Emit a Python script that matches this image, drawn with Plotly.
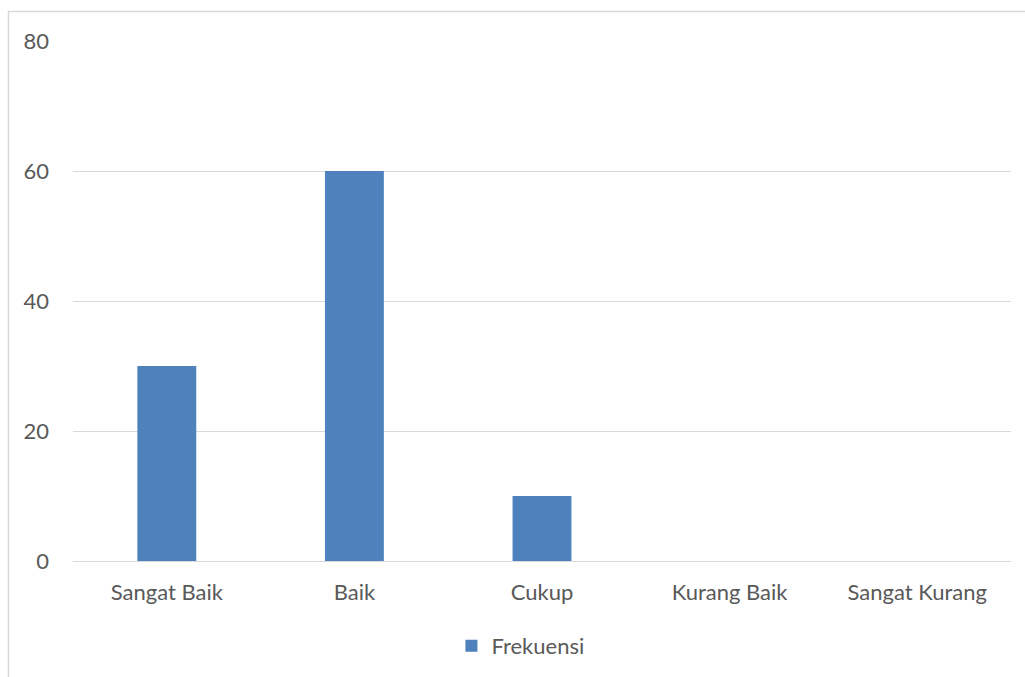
import plotly.graph_objects as go

categories = ["Sangat Baik", "Baik", "Cukup", "Kurang Baik", "Sangat Kurang"]
frekuensi = [30, 60, 10, 0, 0]
y_ticks = [0, 20, 40, 60, 80]

W, H = 1025, 677
L, R, T, B = 73, 14, 41, 116
pw = W - L - R
ph = H - T - B

font = dict(family="Lato, Carlito, Open Sans, sans-serif", size=22, color="#595959")

fig = go.Figure()
fig.add_trace(go.Bar(x=categories, y=frekuensi, name="Frekuensi",
                     marker=dict(color="#4F81BD", line=dict(width=0))))

fig.update_layout(
    width=W, height=H,
    margin=dict(l=L, r=R, t=T, b=B, autoexpand=False),
    paper_bgcolor="white", plot_bgcolor="white",
    font=font,
    bargap=0.686,
    showlegend=True,
    legend=dict(orientation="h", x=0.477, xanchor="center", y=(561 - 646) / ph,
                yanchor="middle", font=font, itemwidth=30),
    xaxis=dict(showgrid=False, showline=False, ticks="", zeroline=False,
               ticklabelstandoff=16, tickfont=font),
    yaxis=dict(range=[0, 80], tickvals=y_ticks, showgrid=True, gridcolor="#D9D9D9",
               gridwidth=1.3, zeroline=True, zerolinecolor="#D9D9D9", zerolinewidth=1.3,
               showline=False, ticks="", ticklabelstandoff=23, tickfont=font),
)

fig.add_shape(type="rect", xref="paper", yref="paper",
              x0=(8.5 - L) / pw, x1=(W + 20 - L) / pw,
              y0=(561 - H - 20) / ph, y1=(561 - 11.5) / ph,
              line=dict(color="#D9D9D9", width=1.5), fillcolor="rgba(0,0,0,0)",
              layer="below")

fig.write_html("out.html")
